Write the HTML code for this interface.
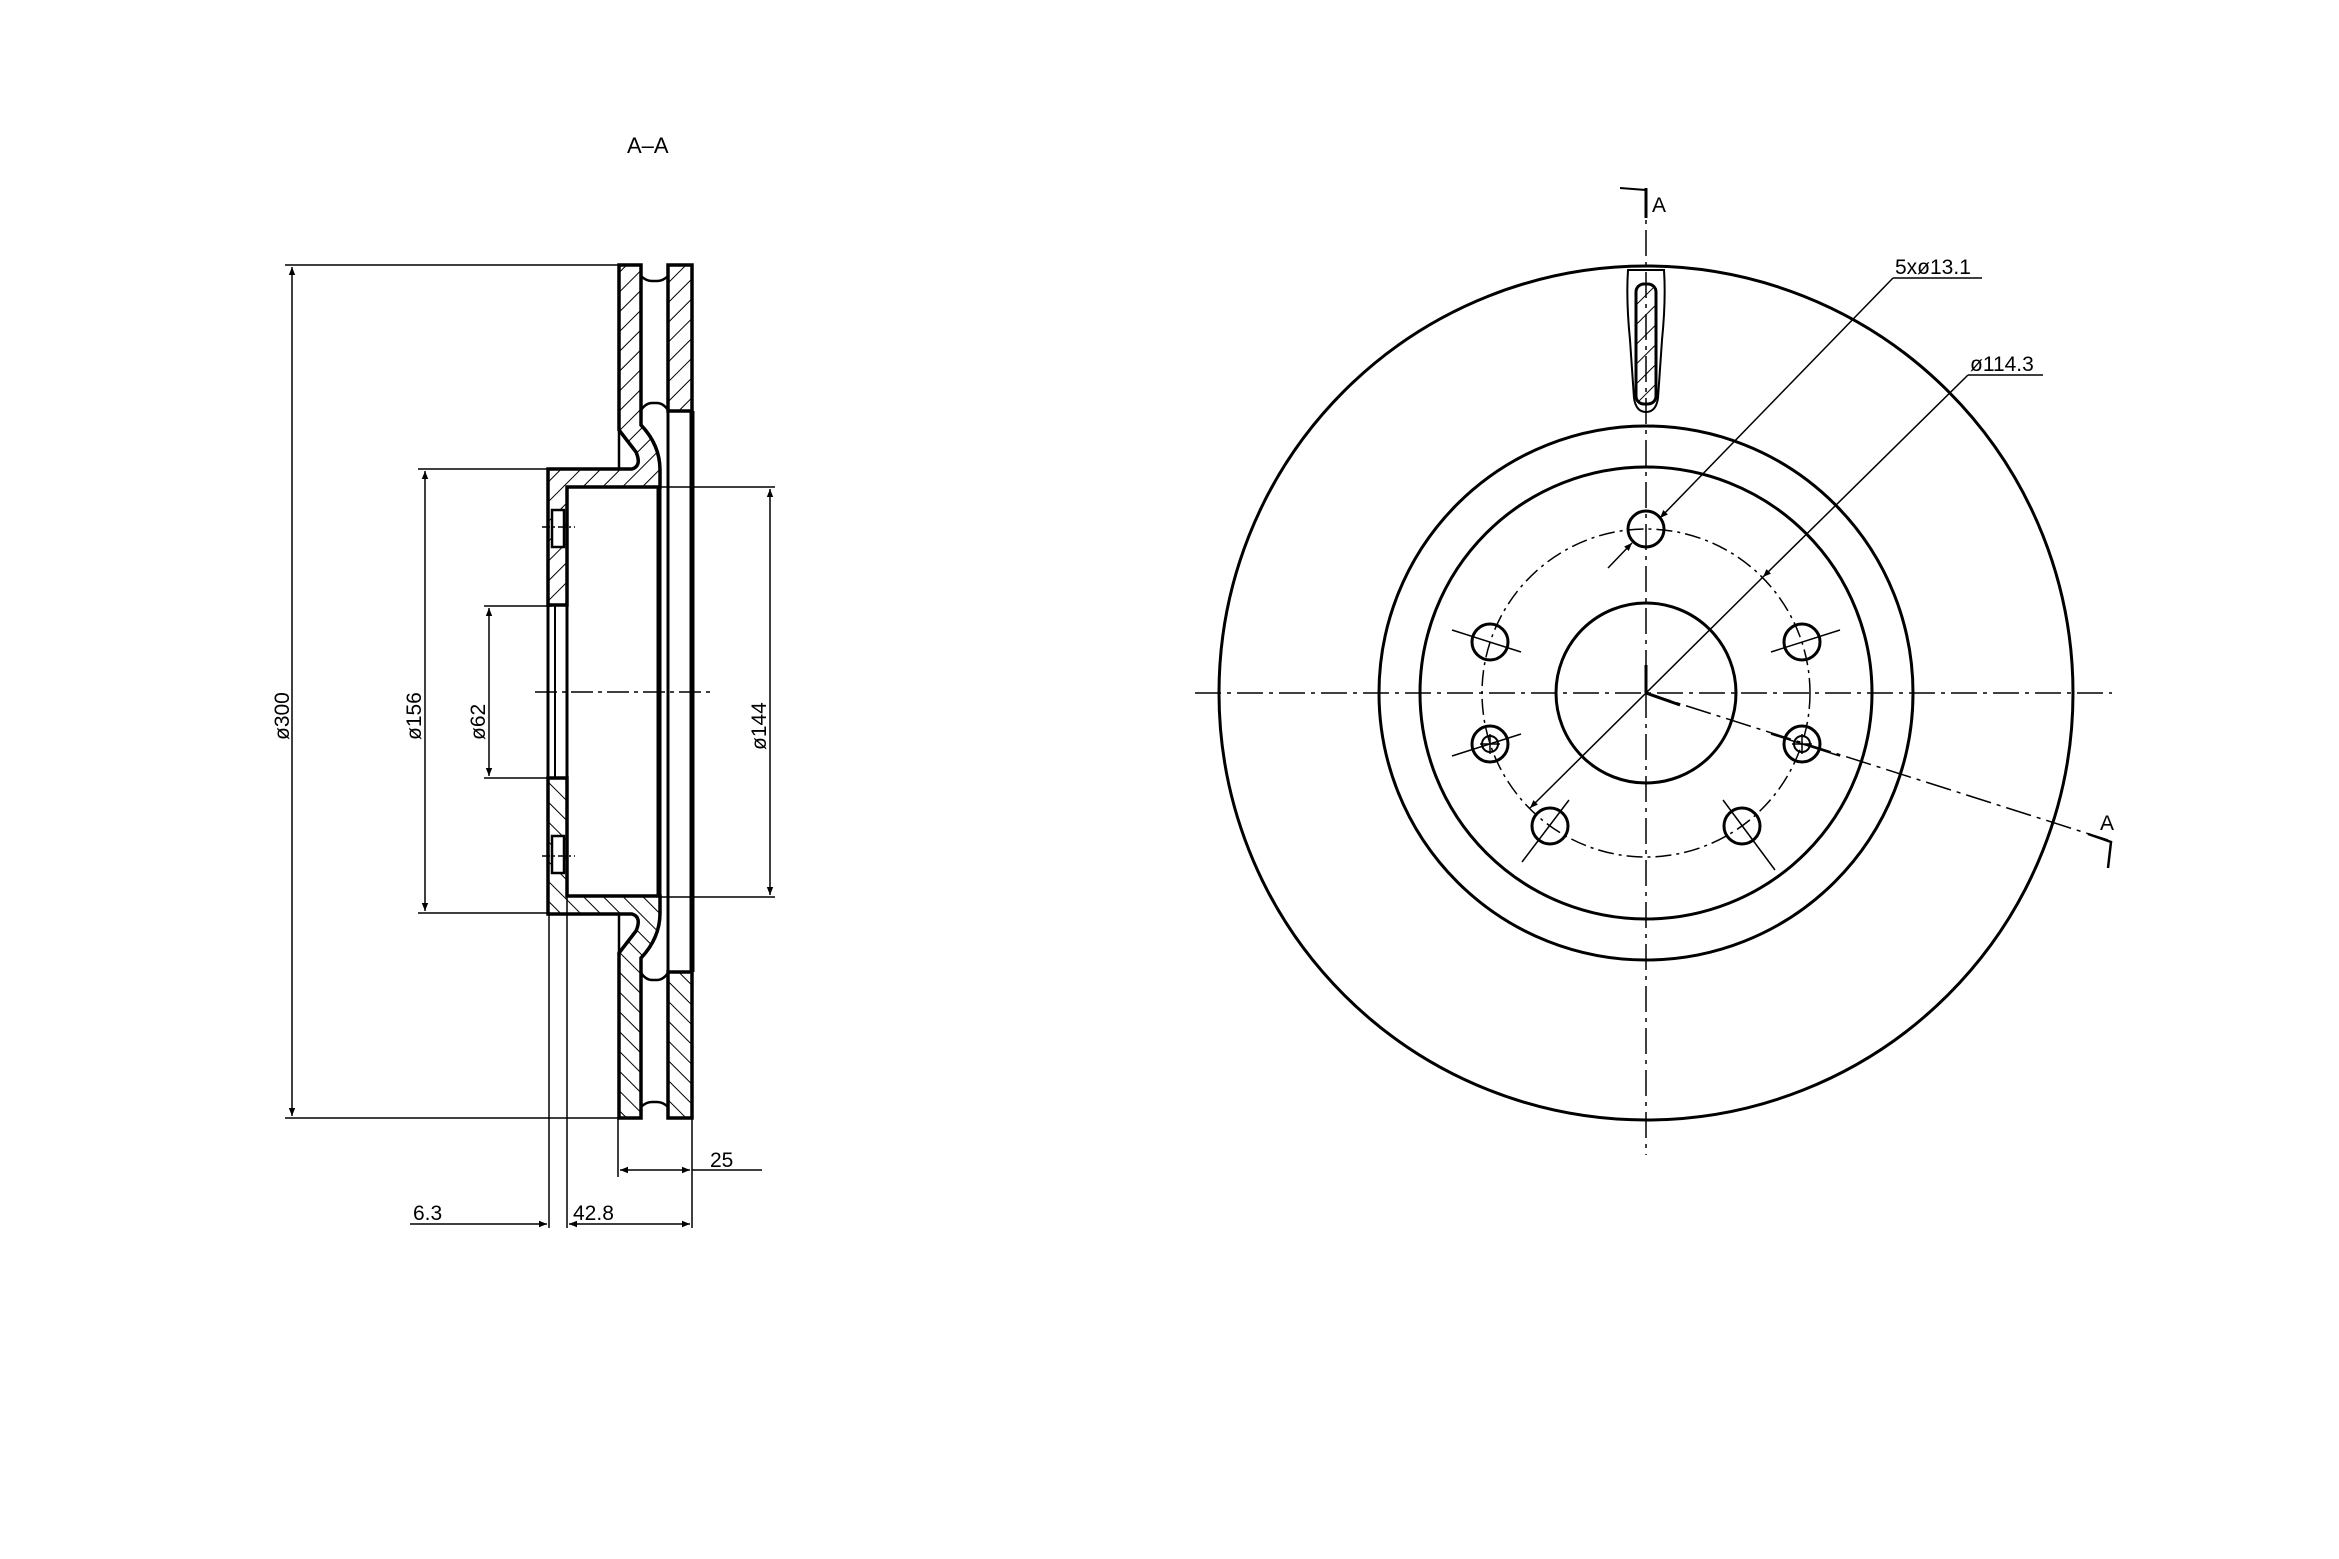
<!DOCTYPE html>
<html><head><meta charset="utf-8"><style>
html,body{margin:0;padding:0;background:#fff;}
svg{display:block;}
text{font-family:"Liberation Sans",sans-serif;fill:#000;}
</style></head><body>
<svg width="2339" height="1559" viewBox="0 0 2339 1559" xmlns="http://www.w3.org/2000/svg">
<defs>
<pattern id="h" patternUnits="userSpaceOnUse" width="14" height="14" patternTransform="rotate(45)">
<line x1="0" y1="0" x2="0" y2="14" stroke="#000" stroke-width="2"/>
</pattern>
<marker id="ar" viewBox="0 0 10 10" refX="10" refY="5" markerWidth="14" markerHeight="8" orient="auto-start-reverse" markerUnits="userSpaceOnUse">
<path d="M0,1 L10,5 L0,9 z" fill="#000"/>
</marker>
</defs>
<rect width="2339" height="1559" fill="#fff"/>

<text x="627" y="153" font-size="22">A–A</text>

<!-- SECTION VIEW -->
<g id="half" stroke="#000" fill="none">
  <!-- left plate + bend + flange -->
  <path d="M619,265 L641,265 L641,425 Q660,445 660,470 L660,487 L567,487 L567,605 L548,605 L548,469 L632,469 Q642,466 636,452 L619,430 Z" fill="url(#h)" stroke-width="3.5"/>
  <!-- hole in hat wall -->
  <rect x="552" y="510" width="12" height="37" fill="#fff" stroke-width="2.5"/>
  <line x1="542" y1="527" x2="575" y2="527" stroke-width="1.5" stroke-dasharray="8,3,2,3"/>
  <!-- right plate -->
  <rect x="668" y="265" width="24" height="146" fill="url(#h)" stroke-width="3.5"/>
  <!-- vent caps -->
  <path d="M641,276 Q646,281 652,281 L657,281 Q663,281 668,276" stroke-width="2.5"/>
  <path d="M641,410 Q646,403 652,403 L657,403 Q663,403 668,410" stroke-width="2.5"/>
  <!-- outer face line in pocket -->
  <line x1="619" y1="428" x2="619" y2="469" stroke-width="2.5"/>
</g>
<use href="#half" transform="translate(0,1383) scale(1,-1)"/>
<g stroke="#000" fill="none">
  <line x1="548" y1="605" x2="548" y2="778" stroke-width="3"/>
  <line x1="555" y1="605" x2="555" y2="778" stroke-width="2"/>
  <line x1="567" y1="487" x2="567" y2="896" stroke-width="3"/>
  <line x1="659" y1="487" x2="659" y2="896" stroke-width="5"/>
  <line x1="668" y1="411" x2="668" y2="972" stroke-width="3"/>
  <line x1="692" y1="411" x2="692" y2="972" stroke-width="5"/>
  <!-- centerline -->
  <line x1="535" y1="692" x2="712" y2="692" stroke-width="1.5" stroke-dasharray="22,5,4,5"/>
  <!-- Ø300 -->
  <line x1="285" y1="265" x2="619" y2="265" stroke-width="1.5"/>
  <line x1="285" y1="1118" x2="619" y2="1118" stroke-width="1.5"/>
  <line x1="292" y1="267" x2="292" y2="1116" stroke-width="1.5" marker-start="url(#ar)" marker-end="url(#ar)"/>
  <!-- Ø156 -->
  <line x1="418" y1="469" x2="548" y2="469" stroke-width="1.5"/>
  <line x1="418" y1="913" x2="548" y2="913" stroke-width="1.5"/>
  <line x1="425" y1="471" x2="425" y2="911" stroke-width="1.5" marker-start="url(#ar)" marker-end="url(#ar)"/>
  <!-- Ø62 -->
  <line x1="484" y1="606" x2="552" y2="606" stroke-width="1.5"/>
  <line x1="484" y1="778" x2="552" y2="778" stroke-width="1.5"/>
  <line x1="489" y1="608" x2="489" y2="776" stroke-width="1.5" marker-start="url(#ar)" marker-end="url(#ar)"/>
  <!-- Ø144 -->
  <line x1="660" y1="487" x2="775" y2="487" stroke-width="1.5"/>
  <line x1="660" y1="897" x2="775" y2="897" stroke-width="1.5"/>
  <line x1="770" y1="489" x2="770" y2="895" stroke-width="1.5" marker-start="url(#ar)" marker-end="url(#ar)"/>
  <!-- 25 -->
  <line x1="618" y1="1118" x2="618" y2="1177" stroke-width="1.5"/>
  <line x1="692" y1="972" x2="692" y2="1228" stroke-width="1.5"/>
  <line x1="620" y1="1170" x2="690" y2="1170" stroke-width="1.5" marker-start="url(#ar)" marker-end="url(#ar)"/>
  <line x1="692" y1="1170" x2="762" y2="1170" stroke-width="1.5"/>
  <!-- 6.3 / 42.8 -->
  <line x1="549" y1="913" x2="549" y2="1228" stroke-width="1.5"/>
  <line x1="567" y1="896" x2="567" y2="1228" stroke-width="1.5"/>
  <line x1="410" y1="1224" x2="547" y2="1224" stroke-width="1.5" marker-end="url(#ar)"/>
  <line x1="569" y1="1224" x2="690" y2="1224" stroke-width="1.5" marker-start="url(#ar)" marker-end="url(#ar)"/>
</g>
<text font-size="21" transform="translate(289,740) rotate(-90)">ø300</text>
<text font-size="21" transform="translate(421,740) rotate(-90)">ø156</text>
<text font-size="21" transform="translate(485,740) rotate(-90)">ø62</text>
<text font-size="21" transform="translate(766,750) rotate(-90)">ø144</text>
<text x="710" y="1167" font-size="21">25</text>
<text x="413" y="1220" font-size="21">6.3</text>
<text x="573" y="1220" font-size="21">42.8</text>

<!-- FRONT VIEW -->
<g stroke="#000" fill="none" stroke-width="3">
  <circle cx="1646" cy="693" r="427"/>
  <circle cx="1646" cy="693" r="267"/>
  <circle cx="1646" cy="693" r="226"/>
  <circle cx="1646" cy="693" r="90"/>
  <circle cx="1646" cy="693" r="164" stroke-width="1.5" stroke-dasharray="16,5,3,5"/>
  <!-- centerlines -->
  <line x1="1195" y1="693" x2="2112" y2="693" stroke-width="1.5" stroke-dasharray="26,6,4,6"/>
  <line x1="1646" y1="188" x2="1646" y2="1155" stroke-width="1.5" stroke-dasharray="26,6,4,6"/>
  <!-- section A top -->
  <line x1="1646" y1="188" x2="1646" y2="218" stroke-width="3"/>
  <line x1="1620" y1="188" x2="1646" y2="190" stroke-width="2"/>
  <!-- section line -->
  <line x1="1646" y1="693" x2="2108" y2="840" stroke-width="1.5" stroke-dasharray="26,6,4,6"/>
  <line x1="1646" y1="693" x2="1680" y2="705" stroke-width="3"/>
  <line x1="1646" y1="665" x2="1646" y2="693" stroke-width="3"/>
  <path d="M2088,834 L2111,842 L2108,868" stroke-width="2.5"/>
  <!-- slot -->
  <path d="M1628,270 L1664,270 Q1666,300 1662,340 L1658,398 Q1656,412 1646,412 Q1636,412 1634,398 L1630,340 Q1626,300 1628,270 Z" stroke-width="2"/>
  <rect x="1636" y="284" width="20" height="120" rx="8" fill="url(#h)" stroke-width="3"/>
  <!-- holes -->
  <g id="holes">
    <circle cx="1646" cy="529" r="18"/>
    <circle cx="1802" cy="642" r="18"/>
    <circle cx="1490" cy="642" r="18"/>
    <circle cx="1742" cy="826" r="18"/>
    <circle cx="1550" cy="826" r="18"/>
    <circle cx="1802" cy="744" r="18"/><circle cx="1802" cy="744" r="8" stroke-width="2"/>
    <circle cx="1490" cy="744" r="18"/><circle cx="1490" cy="744" r="8" stroke-width="2"/>
  </g>
  <g stroke-width="1.5">
    <line x1="1771" y1="652" x2="1840" y2="630"/>
    <line x1="1521" y1="652" x2="1452" y2="630"/>
    <line x1="1771" y1="734" x2="1840" y2="756"/>
    <line x1="1521" y1="734" x2="1452" y2="756"/>
    <line x1="1723" y1="800" x2="1775" y2="870"/>
    <line x1="1569" y1="800" x2="1522" y2="862"/>
    <line x1="1802" y1="734" x2="1802" y2="754"/><line x1="1792" y1="744" x2="1812" y2="744"/>
    <line x1="1490" y1="734" x2="1490" y2="754"/><line x1="1480" y1="744" x2="1500" y2="744"/>
  </g>
  <!-- leaders -->
  <line x1="1893" y1="278" x2="1982" y2="278" stroke-width="1.5"/>
  <line x1="1893" y1="278" x2="1660" y2="518" stroke-width="1.5" marker-end="url(#ar)"/>
  <line x1="1608" y1="568" x2="1632" y2="543" stroke-width="1.5" marker-end="url(#ar)"/>
  <line x1="1968" y1="375" x2="2043" y2="375" stroke-width="1.5"/>
  <line x1="1968" y1="375" x2="1763" y2="577" stroke-width="1.5" marker-end="url(#ar)"/>
  <line x1="1763" y1="577" x2="1530" y2="808" stroke-width="1.5" marker-end="url(#ar)"/>
</g>
<text x="1652" y="212" font-size="21">A</text>
<text x="2100" y="830" font-size="21">A</text>
<text x="1895" y="274" font-size="21">5xø13.1</text>
<text x="1970" y="371" font-size="21">ø114.3</text>
</svg>
</body></html>
